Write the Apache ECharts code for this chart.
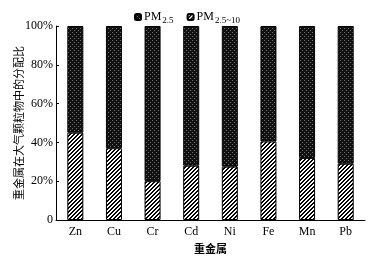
<!DOCTYPE html>
<html><head><meta charset="utf-8">
<script src="https://cdn.jsdelivr.net/npm/echarts@6/dist/echarts.min.js"></script>
<style>html,body{margin:0;padding:0;background:#fff}#c{width:382px;height:262px}</style>
</head><body><div id="c"></div>
<script>
const categories = ['Zn','Cu','Cr','Cd','Ni','Fe','Mn','Pb'];
const coarse = [45, 37, 20, 28, 27.5, 40.5, 32, 29];   // PM2.5~10 share (%)
const fine = [55, 63, 80, 72, 72.5, 59.5, 68, 71];     // PM2.5 share (%)
const yTicks = [0, 20, 40, 60, 80, 100];

function darkPattern(){
  const c = document.createElement('canvas'); c.width = 4; c.height = 4;
  const g = c.getContext('2d');
  g.fillStyle = '#111'; g.fillRect(0,0,4,4);
  g.fillStyle = '#707070';
  g.fillRect(0,0,1,1); g.fillRect(2,2,1,1);
  return c;
}
function hatchPattern(){
  const c = document.createElement('canvas'); c.width = 4; c.height = 4;
  const g = c.getContext('2d');
  g.fillStyle = '#fff'; g.fillRect(0,0,4,4);
  g.fillStyle = '#000';
  for (let y = 0; y < 4; y++) {
    g.fillRect((3 - y + 4) % 4, y, 1, 1);
    g.fillRect((4 - y + 4) % 4, y, 1, 1);
  }
  return c;
}
const serif = '"Liberation Serif", "Times New Roman", serif';
const cjk = '"Noto Sans CJK SC", sans-serif';

const chart = echarts.init(document.getElementById('c'), null, {renderer:'canvas'});
chart.setOption({
  animation: false,
  backgroundColor: '#fff',
  legend: {
    data: ['PM2.5', 'PM2.5~10'],
    top: 6, left: 129,
    itemWidth: 6, itemHeight: 6, itemGap: 13,
    textStyle: {fontFamily: serif, fontSize: 12, color: '#000', padding: [0,0,0,-2],
      rich: {
        n: {fontFamily: serif, fontSize: 12, color: '#000', lineHeight: 16, verticalAlign: 'middle'},
        s: {fontFamily: serif, fontSize: 9, color: '#000', padding: [7,0,0,1], verticalAlign: 'middle'}
      }},
    formatter: function(name){
      return name === 'PM2.5' ? '{n|PM}{s|2.5}' : '{n|PM}{s|2.5~10}';
    }
  },
  grid: {left: 56, right: 17, top: 26, bottom: 42, outerBoundsMode: 'none', containLabel: false},
  xAxis: {
    type: 'category', data: categories,
    name: '重金属', nameLocation: 'middle', nameGap: 23, nameMoveOverlap: false,
    nameTextStyle: {fontFamily: cjk, fontSize: 11, color: '#000', fontWeight: 'bold'},
    axisLine: {lineStyle: {color: '#000', width: 1}},
    axisTick: {inside: true, length: 3, lineStyle: {color: '#000'}},
    axisLabel: {fontFamily: serif, fontSize: 12, color: '#000', margin: 6}
  },
  yAxis: {
    type: 'value', min: 0, max: 100, interval: 20,
    name: '重金属在大气颗粒物中的分配比', nameLocation: 'middle', nameGap: 32, nameRotate: 90,
    nameMoveOverlap: false,
    nameTextStyle: {fontFamily: cjk, fontSize: 11, color: '#000'},
    axisLine: {show: true, lineStyle: {color: '#000', width: 1}},
    axisTick: {show: true, inside: true, length: 3, lineStyle: {color: '#000'}},
    splitLine: {show: false},
    axisLabel: {fontFamily: serif, fontSize: 12, color: '#000', margin: 3,
      formatter: function(v){ return yTicks.indexOf(v) >= 0 ? (v === 0 ? '0' : v + '%') : ''; }}
  },
  series: [
    {name: 'PM2.5~10', type: 'bar', stack: 's', data: coarse, barWidth: 16,
     itemStyle: {color: {image: hatchPattern(), repeat: 'repeat'}, borderColor: '#000', borderWidth: 1}},
    {name: 'PM2.5', type: 'bar', stack: 's', data: fine, barWidth: 16,
     itemStyle: {color: {image: darkPattern(), repeat: 'repeat'}, borderColor: '#000', borderWidth: 1}}
  ]
});
</script></body></html>
